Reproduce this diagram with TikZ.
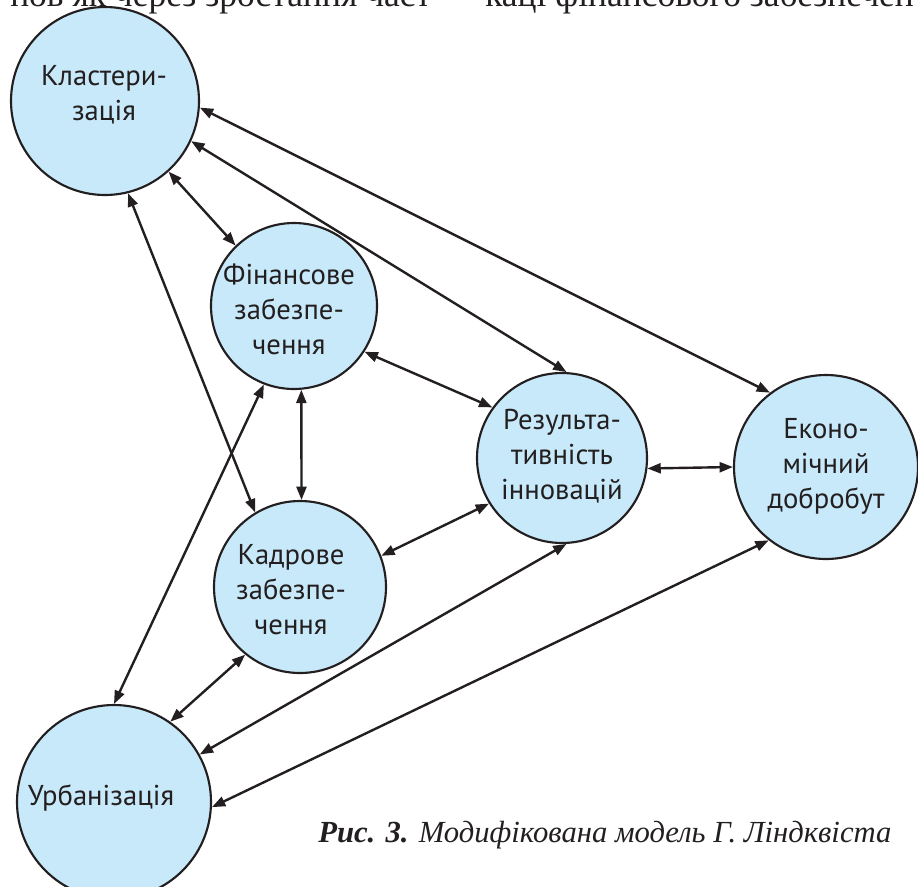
\documentclass[tikz,border=0pt]{standalone}
\usepackage{fontspec}
\setmainfont{Liberation Serif}
\newfontfamily\nodefont{PT Sans}
\usetikzlibrary{arrows.meta}
\definecolor{circfill}{RGB}{200,233,249}
\definecolor{ink}{RGB}{35,31,32}
\begin{document}
\begin{tikzpicture}[x=0.75pt,y=-0.75pt,
  bubble/.style={circle,draw=ink,line width=1.6pt,fill=circfill,inner sep=0pt},
  ctext/.style={font=\nodefont\fontsize{21.5}{26.25}\selectfont,align=center,text=ink,inner sep=0pt},
  >={Triangle[length=10pt,width=7.5pt]},
  link/.style={draw=ink,line width=1.8pt,<->},
  bodytext/.style={font=\fontsize{26.6}{30}\selectfont,text=ink,inner sep=0pt,anchor=base west}]
\useasboundingbox (0,0) rectangle (918,886);
\clip (0,0) rectangle (918,886);

% partly cut-off line of body text
\node[bodytext] (top1) at (10,6) {нов як через зростання част};
\node[bodytext] (top2) at (485,6) {каці фінансового забезпечен};

% circles
\node[bubble,minimum size=141pt]   (klast) at (105,101) {};
\node[bubble,minimum size=124.5pt] (fin)   at (294,306) {};
\node[bubble,minimum size=129pt]   (kadr)  at (300,587) {};
\node[bubble,minimum size=127.5pt] (res)   at (562,458) {};
\node[bubble,minimum size=138pt]   (econ)  at (826,467) {};
\node[bubble,minimum size=145.5pt] (urb)   at (114,802) {};

% texts
\node[ctext] (klastT) at (104,95)  {Кластери-\\зація};
\node[ctext] (finT)   at (289,309) {Фінансове\\забезпе-\\чення};
\node[ctext] (kadrT)  at (291,590) {Кадрове\\забезпе-\\чення};
\node[ctext] (resT)   at (562,456) {Результа-\\тивність\\інновацій};
\node[ctext] (econT)  at (826,466) {Еконо-\\мічний\\добробут};
\node[ctext] (urbT)   at (101,798) {Урбанізація};

% connectors
\draw[link] (klast.-4)   -- (econ.127);
\draw[link] (klast.-25)  -- (res.87);
\draw[link] (klast.-48)  -- (fin.134);
\draw[link] (klast.-76)  -- (kadr.121);
\draw[link] (fin.-111)   -- (urb.90);
\draw[link] (fin.-85)    -- (kadr.89);
\draw[link] (fin.-33)    -- (res.144);
\draw[link] (kadr.21)    -- (res.-148);
\draw[link] (kadr.-129)  -- (urb.55);
\draw[link] (res.-87)    -- (urb.29);
\draw[link] (res.-7)     -- (econ.180);
\draw[link] (econ.-128)  -- (urb.-3);

% caption
\node[font=\fontsize{23}{28}\selectfont\itshape,text=ink,inner sep=0pt,anchor=base west] (cap) at (318,842)
  {\textbf{Рис. 3.} Модифікована модель Г. Ліндквіста};
\end{tikzpicture}
\end{document}
